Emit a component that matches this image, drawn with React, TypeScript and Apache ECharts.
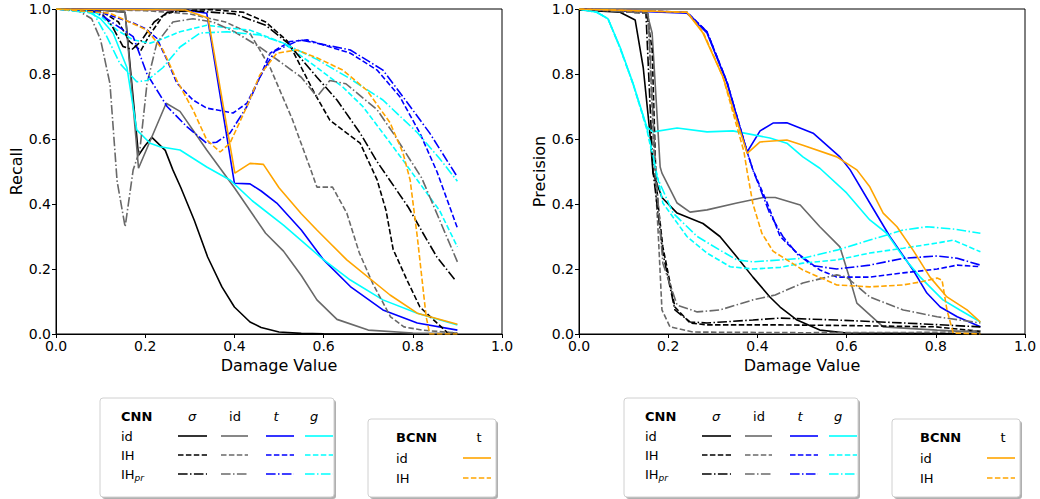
import React, { useEffect, useRef } from "react";
import * as echarts from "echarts";

// ---------- data: [damage value, metric] ----------
// Recall panel
const recallSigmaId = [[0,1],[0.1,0.997],[0.155,0.99],[0.185,0.55],[0.2,0.58],[0.215,0.605],[0.245,0.565],[0.262,0.505],[0.28,0.45],[0.31,0.35],[0.34,0.237],[0.372,0.145],[0.4,0.083],[0.435,0.037],[0.46,0.02],[0.5,0.006],[0.55,0.002],[0.6,0.001],[0.9,0]];
const recallIdId = [[0,1],[0.1,0.997],[0.155,0.99],[0.185,0.51],[0.247,0.71],[0.278,0.685],[0.338,0.566],[0.4,0.45],[0.44,0.37],[0.47,0.31],[0.51,0.255],[0.55,0.18],[0.585,0.105],[0.63,0.045],[0.7,0.012],[0.8,0.003],[0.9,0.002]];
const recallTId = [[0,1],[0.2,0.998],[0.3,0.995],[0.338,0.987],[0.4,0.464],[0.435,0.462],[0.46,0.44],[0.495,0.403],[0.55,0.32],[0.6,0.228],[0.66,0.146],[0.733,0.074],[0.81,0.034],[0.9,0.012]];
const recallGId = [[0,1],[0.065,0.997],[0.1,0.97],[0.128,0.926],[0.159,0.82],[0.181,0.628],[0.211,0.587],[0.233,0.576],[0.278,0.566],[0.338,0.514],[0.39,0.474],[0.44,0.41],[0.51,0.335],[0.596,0.233],[0.66,0.166],[0.733,0.105],[0.81,0.064],[0.9,0.028]];
const recallBcnnId = [[0,1],[0.29,0.997],[0.341,0.972],[0.401,0.495],[0.435,0.525],[0.465,0.522],[0.5,0.45],[0.55,0.37],[0.585,0.32],[0.652,0.228],[0.749,0.12],[0.81,0.064],[0.9,0.03]];
const recallSigmaIH = [[0,1],[0.1,0.995],[0.14,0.96],[0.165,0.9],[0.19,0.872],[0.21,0.92],[0.24,0.98],[0.27,0.995],[0.35,0.998],[0.42,0.99],[0.47,0.96],[0.52,0.9],[0.55,0.82],[0.58,0.74],[0.614,0.658],[0.652,0.618],[0.682,0.587],[0.72,0.474],[0.74,0.38],[0.756,0.26],[0.787,0.166],[0.816,0.083],[0.854,0.034],[0.877,0.005],[0.9,0]];
const recallSigmaIHpr = [[0,1],[0.1,0.99],[0.125,0.95],[0.15,0.885],[0.17,0.875],[0.19,0.9],[0.22,0.96],[0.25,0.99],[0.3,0.995],[0.4,0.985],[0.47,0.95],[0.52,0.895],[0.585,0.79],[0.63,0.72],[0.682,0.618],[0.72,0.53],[0.75,0.47],[0.79,0.39],[0.823,0.31],[0.854,0.237],[0.895,0.166]];
const recallIdIH = [[0,1],[0.2,0.995],[0.3,0.985],[0.38,0.96],[0.435,0.925],[0.48,0.82],[0.53,0.66],[0.57,0.51],[0.585,0.452],[0.62,0.452],[0.652,0.372],[0.68,0.25],[0.71,0.156],[0.75,0.053],[0.78,0.022],[0.82,0.012],[0.9,0.003]];
const recallIdIHpr = [[0,1],[0.047,0.997],[0.08,0.97],[0.1,0.905],[0.121,0.77],[0.137,0.47],[0.155,0.33],[0.173,0.505],[0.188,0.566],[0.204,0.77],[0.226,0.895],[0.262,0.96],[0.307,0.97],[0.352,0.96],[0.4,0.93],[0.457,0.883],[0.5,0.84],[0.55,0.79],[0.585,0.73],[0.614,0.78],[0.65,0.77],[0.72,0.69],[0.756,0.618],[0.82,0.48],[0.9,0.222]];
const recallTIH = [[0,1],[0.084,0.997],[0.173,0.957],[0.2,0.94],[0.226,0.91],[0.25,0.84],[0.271,0.772],[0.307,0.72],[0.338,0.695],[0.397,0.68],[0.428,0.71],[0.457,0.79],[0.48,0.864],[0.525,0.9],[0.563,0.905],[0.66,0.864],[0.72,0.812],[0.771,0.73],[0.816,0.618],[0.854,0.5],[0.9,0.326]];
const recallTIHpr = [[0,1],[0.092,0.99],[0.173,0.915],[0.204,0.8],[0.249,0.7],[0.294,0.637],[0.338,0.587],[0.36,0.59],[0.39,0.618],[0.428,0.7],[0.457,0.79],[0.49,0.87],[0.547,0.905],[0.66,0.874],[0.733,0.812],[0.778,0.73],[0.838,0.618],[0.9,0.483]];
const recallGIH = [[0,1],[0.092,0.987],[0.137,0.935],[0.173,0.905],[0.211,0.895],[0.233,0.905],[0.278,0.93],[0.338,0.95],[0.397,0.94],[0.435,0.935],[0.51,0.895],[0.585,0.82],[0.643,0.76],[0.688,0.7],[0.733,0.618],[0.778,0.535],[0.81,0.474],[0.86,0.38],[0.9,0.268]];
const recallGIHpr = [[0,1],[0.084,0.987],[0.114,0.915],[0.143,0.833],[0.181,0.776],[0.204,0.78],[0.24,0.82],[0.278,0.883],[0.323,0.926],[0.383,0.93],[0.457,0.92],[0.51,0.895],[0.585,0.845],[0.66,0.785],[0.733,0.72],[0.81,0.62],[0.86,0.54],[0.9,0.47]];
const recallBcnnIH = [[0,1],[0.121,0.987],[0.204,0.935],[0.24,0.874],[0.271,0.78],[0.307,0.69],[0.338,0.597],[0.368,0.56],[0.39,0.587],[0.428,0.7],[0.457,0.797],[0.495,0.864],[0.54,0.874],[0.585,0.85],[0.643,0.812],[0.697,0.75],[0.749,0.65],[0.778,0.557],[0.794,0.474],[0.81,0.3],[0.83,0.053],[0.838,0],[0.9,0]];

// Precision panel
const precSigmaId = [[0,0.997],[0.092,0.99],[0.126,0.966],[0.144,0.82],[0.159,0.618],[0.166,0.495],[0.186,0.42],[0.22,0.372],[0.278,0.34],[0.316,0.3],[0.354,0.237],[0.39,0.175],[0.428,0.114],[0.451,0.083],[0.489,0.043],[0.54,0.012],[0.6,0.003],[0.9,0.001]];
const precIdId = [[0,1],[0.152,0.99],[0.164,0.926],[0.182,0.514],[0.186,0.495],[0.22,0.403],[0.249,0.375],[0.287,0.382],[0.354,0.403],[0.413,0.42],[0.44,0.42],[0.496,0.397],[0.54,0.33],[0.585,0.268],[0.608,0.166],[0.623,0.095],[0.682,0.022],[0.803,0.012],[0.9,0.005]];
const precTId = [[0,1],[0.242,0.987],[0.287,0.926],[0.332,0.772],[0.377,0.56],[0.406,0.625],[0.435,0.649],[0.466,0.65],[0.525,0.618],[0.585,0.545],[0.608,0.505],[0.652,0.403],[0.697,0.3],[0.749,0.197],[0.78,0.126],[0.81,0.083],[0.848,0.053],[0.9,0.022]];
const precGId = [[0,1],[0.04,0.99],[0.065,0.97],[0.092,0.883],[0.121,0.772],[0.152,0.637],[0.166,0.622],[0.22,0.634],[0.287,0.622],[0.345,0.625],[0.428,0.603],[0.466,0.587],[0.502,0.545],[0.54,0.51],[0.6,0.434],[0.652,0.351],[0.69,0.31],[0.727,0.237],[0.765,0.175],[0.816,0.105],[0.854,0.074],[0.9,0.037]];
const precBcnnId = [[0,1],[0.242,0.99],[0.278,0.926],[0.323,0.79],[0.377,0.556],[0.406,0.591],[0.466,0.597],[0.502,0.581],[0.578,0.545],[0.623,0.505],[0.652,0.453],[0.682,0.372],[0.713,0.33],[0.749,0.258],[0.787,0.175],[0.825,0.114],[0.87,0.074],[0.9,0.037]];
const precSigmaIH = [[0,1],[0.152,0.987],[0.164,0.874],[0.172,0.5],[0.177,0.403],[0.188,0.268],[0.215,0.083],[0.249,0.034],[0.287,0.028],[0.451,0.028],[0.6,0.026],[0.8,0.022],[0.9,0.008]];
const precSigmaIHpr = [[0,1],[0.15,0.99],[0.166,0.5],[0.188,0.249],[0.215,0.074],[0.249,0.037],[0.287,0.034],[0.39,0.043],[0.451,0.049],[0.578,0.043],[0.727,0.034],[0.9,0.022]];
const precIdIH = [[0,1],[0.155,0.987],[0.17,0.5],[0.178,0.3],[0.186,0.074],[0.204,0.022],[0.256,0.006],[0.5,0.004],[0.8,0.005],[0.9,0.01]];
const precIdIHpr = [[0,1],[0.155,0.987],[0.172,0.5],[0.188,0.218],[0.22,0.089],[0.265,0.068],[0.316,0.074],[0.39,0.105],[0.44,0.12],[0.502,0.157],[0.578,0.182],[0.6,0.175],[0.652,0.114],[0.727,0.074],[0.803,0.053],[0.9,0.034]];
const precTIH = [[0,1],[0.242,0.99],[0.287,0.93],[0.332,0.775],[0.377,0.56],[0.39,0.505],[0.422,0.403],[0.451,0.3],[0.489,0.249],[0.54,0.197],[0.578,0.175],[0.652,0.175],[0.727,0.188],[0.803,0.2],[0.848,0.212],[0.9,0.207]];
const precTIHpr = [[0,1],[0.242,0.99],[0.287,0.93],[0.332,0.775],[0.377,0.56],[0.39,0.505],[0.428,0.37],[0.457,0.3],[0.49,0.245],[0.525,0.21],[0.578,0.2],[0.652,0.212],[0.727,0.233],[0.803,0.24],[0.848,0.233],[0.9,0.212]];
const precBcnnIH = [[0,1],[0.242,0.99],[0.278,0.93],[0.323,0.79],[0.37,0.56],[0.377,0.5],[0.39,0.4],[0.41,0.31],[0.435,0.255],[0.466,0.228],[0.502,0.197],[0.578,0.151],[0.652,0.145],[0.727,0.151],[0.765,0.16],[0.803,0.172],[0.814,0.166],[0.825,0.074],[0.839,0.003],[0.9,0]];
const precGIH = [[0,1],[0.04,0.99],[0.065,0.97],[0.092,0.88],[0.121,0.77],[0.152,0.63],[0.166,0.54],[0.175,0.49],[0.188,0.403],[0.242,0.3],[0.287,0.249],[0.339,0.207],[0.39,0.2],[0.451,0.205],[0.502,0.218],[0.578,0.228],[0.652,0.249],[0.727,0.264],[0.803,0.28],[0.839,0.289],[0.9,0.253]];
const precGIHpr = [[0,1],[0.04,0.99],[0.065,0.97],[0.092,0.88],[0.121,0.77],[0.152,0.635],[0.166,0.55],[0.175,0.483],[0.211,0.372],[0.265,0.3],[0.316,0.258],[0.354,0.228],[0.39,0.222],[0.451,0.228],[0.502,0.233],[0.578,0.258],[0.652,0.289],[0.727,0.32],[0.78,0.33],[0.839,0.323],[0.9,0.31]];

const axisTicks = [0, 0.2, 0.4, 0.6, 0.8, 1.0];
const panelTitles = ["Recall", "Precision"];
const xTitle = "Damage Value";
const cnnColumns = ["σ", "id", "t", "g"];
const cnnRows = ["id", "IH", "IH"];
const bcnnRows = ["id", "IH"];

// ---------- styles ----------
const COLORS: Record<string, string> = { sigma: "#000000", id: "#696969", t: "#0000ff", g: "#00ffff", bcnn: "#ffa500" };
const DASH: Record<string, any> = { id: "solid", IH: [5.5, 2.4], IHpr: [9.6, 2.4, 1.5, 2.4] };
const FONT = "DejaVu Sans";

type Spec = { name: string; act: string; kind: string; data: number[][] };

const recallSpecs: Spec[] = [
  { name: "CNN σ id", act: "sigma", kind: "id", data: recallSigmaId },
  { name: "CNN id id", act: "id", kind: "id", data: recallIdId },
  { name: "CNN t id", act: "t", kind: "id", data: recallTId },
  { name: "CNN g id", act: "g", kind: "id", data: recallGId },
  { name: "CNN σ IH", act: "sigma", kind: "IH", data: recallSigmaIH },
  { name: "CNN id IH", act: "id", kind: "IH", data: recallIdIH },
  { name: "CNN t IH", act: "t", kind: "IH", data: recallTIH },
  { name: "CNN g IH", act: "g", kind: "IH", data: recallGIH },
  { name: "CNN σ IHpr", act: "sigma", kind: "IHpr", data: recallSigmaIHpr },
  { name: "CNN id IHpr", act: "id", kind: "IHpr", data: recallIdIHpr },
  { name: "CNN t IHpr", act: "t", kind: "IHpr", data: recallTIHpr },
  { name: "CNN g IHpr", act: "g", kind: "IHpr", data: recallGIHpr },
  { name: "BCNN t id", act: "bcnn", kind: "id", data: recallBcnnId },
  { name: "BCNN t IH", act: "bcnn", kind: "IH", data: recallBcnnIH },
];
const precSpecs: Spec[] = [
  { name: "CNN σ id", act: "sigma", kind: "id", data: precSigmaId },
  { name: "CNN id id", act: "id", kind: "id", data: precIdId },
  { name: "CNN t id", act: "t", kind: "id", data: precTId },
  { name: "CNN g id", act: "g", kind: "id", data: precGId },
  { name: "CNN σ IH", act: "sigma", kind: "IH", data: precSigmaIH },
  { name: "CNN id IH", act: "id", kind: "IH", data: precIdIH },
  { name: "CNN t IH", act: "t", kind: "IH", data: precTIH },
  { name: "CNN g IH", act: "g", kind: "IH", data: precGIH },
  { name: "CNN σ IHpr", act: "sigma", kind: "IHpr", data: precSigmaIHpr },
  { name: "CNN id IHpr", act: "id", kind: "IHpr", data: precIdIHpr },
  { name: "CNN t IHpr", act: "t", kind: "IHpr", data: precTIHpr },
  { name: "CNN g IHpr", act: "g", kind: "IHpr", data: precGIHpr },
  { name: "BCNN t id", act: "bcnn", kind: "id", data: precBcnnId },
  { name: "BCNN t IH", act: "bcnn", kind: "IH", data: precBcnnIH },
];

function makeSeries(specs: Spec[], idx: number) {
  return specs.map((s, i) => ({
    type: "line",
    name: s.name,
    xAxisIndex: idx,
    yAxisIndex: idx,
    data: s.data,
    showSymbol: false,
    symbol: "none",
    z: 2 + i * 0.01,
    clip: true,
    lineStyle: { color: COLORS[s.act], width: 1.6, type: DASH[s.kind] },
  }));
}

function txt(x: number, y: number, text: string, extra: any = {}) {
  return {
    type: "text",
    x,
    y,
    style: { text, font: `13px "${FONT}"`, fill: "#000", textVerticalAlign: "middle", textAlign: "left", ...extra },
  };
}
function sample(x1: number, x2: number, y: number, color: string, dash: any) {
  return {
    type: "line",
    shape: { x1, y1: y, x2, y2: y },
    style: { stroke: color, lineWidth: 1.6, lineDash: dash === "solid" ? null : dash },
  };
}
function box(x: number, y: number, w: number, h: number) {
  return [
    { type: "rect", shape: { x: x + 2, y: y + 2, width: w, height: h, r: 3 }, style: { fill: "#b0b0b0", stroke: null } },
    { type: "rect", shape: { x, y, width: w, height: h, r: 3 }, style: { fill: "#fff", stroke: "#d0d0d0", lineWidth: 1 } },
  ];
}

function cnnLegend(ox: number) {
  const els: any[] = [...box(100 + ox, 398, 234, 99)];
  els.push(txt(121 + ox, 416, "CNN", { font: `bold 13px "${FONT}"` }));
  const colX = [192, 235, 276, 314];
  const acts = ["sigma", "id", "t", "g"];
  const segs = [[178, 207], [221, 248], [266, 294], [305, 333]];
  cnnColumns.forEach((c, i) => {
    els.push(txt(colX[i] + ox, 416, c, { textAlign: "center", font: `${c === "id" ? "" : "italic "}13px "${FONT}"` }));
  });
  const rowY = [436, 455, 474];
  const kinds = ["id", "IH", "IHpr"];
  cnnRows.forEach((r, j) => {
    els.push(txt(121 + ox, rowY[j], r));
    if (j === 2) els.push(txt(134.5 + ox, rowY[j] + 4, "pr", { font: `italic 9px "${FONT}"` }));
    acts.forEach((a, i) => els.push(sample(segs[i][0] + ox, segs[i][1] + ox, rowY[j], COLORS[a], DASH[kinds[j]])));
  });
  return els;
}
function bcnnLegend(ox: number) {
  const els: any[] = [...box(368 + ox, 419, 128, 78)];
  els.push(txt(396 + ox, 437, "BCNN", { font: `bold 13px "${FONT}"` }));
  els.push(txt(479 + ox, 437, "t", { textAlign: "center" }));
  const rowY = [458, 478];
  const kinds = ["id", "IH"];
  bcnnRows.forEach((r, j) => {
    els.push(txt(396 + ox, rowY[j], r));
    els.push(sample(463 + ox, 491 + ox, rowY[j], COLORS.bcnn, DASH[kinds[j]]));
  });
  return els;
}

function axisPair(idx: number) {
  const common = {
    type: "value",
    min: 0,
    max: 1,
    interval: 0.2,
    gridIndex: idx,
    axisLine: { show: true, lineStyle: { color: "#000", width: 1 } },
    axisTick: { show: true, inside: false, length: 4, lineStyle: { color: "#000" } },
    splitLine: { show: false },
    axisLabel: { color: "#000", fontFamily: FONT, fontSize: 14, margin: 5, formatter: (v: number) => v.toFixed(1) },
  };
  return {
    x: { ...common, name: xTitle, nameLocation: "middle", nameGap: 21, nameTextStyle: { color: "#000", fontFamily: FONT, fontSize: 16 } },
    y: { ...common, name: panelTitles[idx], nameLocation: "middle", nameRotate: 90, nameGap: 32, nameTextStyle: { color: "#000", fontFamily: FONT, fontSize: 16 } },
  };
}

export default function App() {
  const ref = useRef<HTMLDivElement>(null);
  useEffect(() => {
    if (!ref.current) return;
    const chart = echarts.init(ref.current, null, { renderer: "svg" });
    const a0 = axisPair(0);
    const a1 = axisPair(1);
    chart.setOption({
      animation: false,
      backgroundColor: "#fff",
      textStyle: { fontFamily: FONT },
      grid: [
        { left: 56, top: 9, width: 446, height: 325, show: true, borderColor: "#000", borderWidth: 1, backgroundColor: "transparent" },
        { left: 579, top: 9, width: 446, height: 325, show: true, borderColor: "#000", borderWidth: 1, backgroundColor: "transparent" },
      ],
      xAxis: [a0.x, a1.x],
      yAxis: [a0.y, a1.y],
      series: [...makeSeries(recallSpecs, 0), ...makeSeries(precSpecs, 1)],
      graphic: [...cnnLegend(0), ...bcnnLegend(0), ...cnnLegend(524), ...bcnnLegend(524)],
    });
    return () => chart.dispose();
  }, []);
  return <div ref={ref} style={{ position: "fixed", left: 0, top: 0, width: 1040, height: 499 }} />;
}
